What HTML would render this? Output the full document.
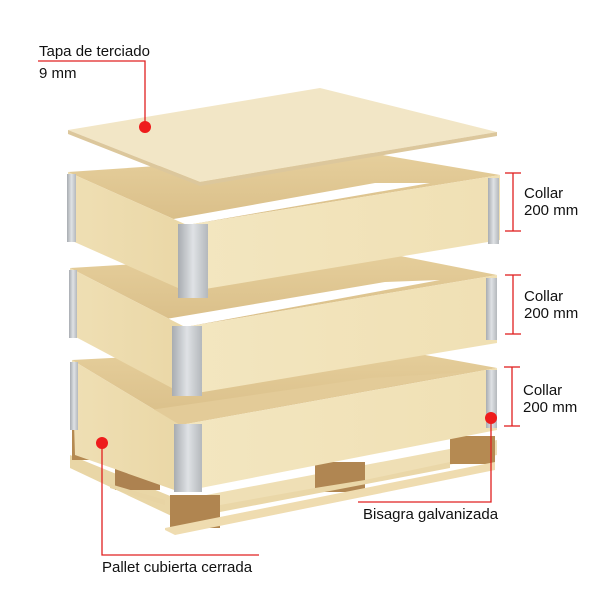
<!DOCTYPE html>
<html><head><meta charset="utf-8"><style>
html,body{margin:0;padding:0;background:#fff;}
svg{display:block;}
text{font-family:"Liberation Sans",sans-serif;font-size:15px;fill:#111;}
</style></head><body>
<svg width="610" height="610" viewBox="0 0 610 610" xmlns="http://www.w3.org/2000/svg">
<defs>
<linearGradient id="fr" x1="0" y1="0" x2="1" y2="0"><stop offset="0" stop-color="#f3e6c0"/><stop offset="1" stop-color="#f0e0b4"/></linearGradient>
<linearGradient id="lf" x1="0" y1="0" x2="1" y2="0"><stop offset="0" stop-color="#efdfb4"/><stop offset="1" stop-color="#ead7a6"/></linearGradient>
<linearGradient id="in" x1="0" y1="0" x2="0" y2="1"><stop offset="0" stop-color="#e6cf9c"/><stop offset="1" stop-color="#d9be88"/></linearGradient>
<linearGradient id="br" x1="0" y1="0" x2="1" y2="0"><stop offset="0" stop-color="#a8acb1"/><stop offset="0.5" stop-color="#dfe2e5"/><stop offset="1" stop-color="#b4b8bc"/></linearGradient>
</defs>

<!-- Pallet -->
<polygon points="70,455 180,500 180,520 70,468" fill="#e9d6a6"/>
<polygon points="180,500 497,440 497,455 180,520" fill="#efdfb5"/>
<rect x="72" y="430" width="38" height="30" fill="#b58a52"/>
<rect x="115" y="460" width="45" height="30" fill="#ad8250"/>
<rect x="170" y="495" width="50" height="33" fill="#b08550"/>
<rect x="315" y="462" width="50" height="30" fill="#b08652"/>
<rect x="450" y="436" width="45" height="28" fill="#b58a52"/>
<polygon points="110,488 165,505 165,500 110,484" fill="#e8d4a4"/>
<polygon points="165,528 495,462 495,470 175,535 165,530" fill="#efdcb0"/>
<polygon points="220,505 315,488 365,480 450,462 450,468 220,512" fill="#ead7a8"/>

<!-- Collar 3 -->
<polygon points="72,360 370,345 497,368 180,425" fill="url(#in)"/>
<polygon points="150,410 370,378 470,372 180,425" fill="#e3cb98"/>
<polygon points="72,360 180,425 180,492 75,455" fill="url(#lf)"/>
<polygon points="180,425 497,368 497,430 180,492" fill="url(#fr)"/>
<rect x="70" y="362" width="8" height="68" fill="url(#br)"/>
<rect x="174" y="424" width="28" height="68" fill="url(#br)"/>
<rect x="486" y="370" width="11" height="58" fill="url(#br)"/>

<!-- Collar 2 -->
<polygon points="70,268 370,250 497,275 185,327" fill="url(#in)"/>
<polygon points="160,320 385,282 440,280 185,327" fill="#ffffff"/>
<polygon points="70,268 185,327 185,395 72,335" fill="url(#lf)"/>
<polygon points="185,327 497,275 497,343 185,395" fill="url(#fr)"/>
<rect x="69" y="270" width="8" height="68" fill="url(#br)"/>
<rect x="172" y="326" width="30" height="70" fill="url(#br)"/>
<rect x="486" y="278" width="11" height="62" fill="url(#br)"/>

<!-- Collar 1 -->
<polygon points="68,172 365,152 500,175 187,225" fill="url(#in)"/>
<polygon points="168,220 375,183 430,183 187,225" fill="#ffffff"/>
<polygon points="68,172 187,225 187,292 70,240" fill="url(#lf)"/>
<polygon points="187,225 500,175 500,240 187,292" fill="url(#fr)"/>
<rect x="67" y="174" width="9" height="68" fill="url(#br)"/>
<rect x="178" y="224" width="30" height="74" fill="url(#br)"/>
<rect x="488" y="178" width="11" height="66" fill="url(#br)"/>

<!-- Lid -->
<polygon points="68,130 320,88 497,132 200,182" fill="#f2e6c6"/>
<polygon points="68,130 200,182 497,132 497,136 200,186 68,134" fill="#dcc79c"/>

<!-- Annotations -->
<g stroke="#e02020" stroke-width="1.3" fill="none">
<polyline points="38,61 145,61 145,127"/>
<line x1="513" y1="173" x2="513" y2="231"/><line x1="505" y1="173" x2="521" y2="173"/><line x1="505" y1="231" x2="521" y2="231"/>
<line x1="513" y1="275" x2="513" y2="334"/><line x1="505" y1="275" x2="521" y2="275"/><line x1="505" y1="334" x2="521" y2="334"/>
<line x1="512" y1="367" x2="512" y2="426"/><line x1="504" y1="367" x2="520" y2="367"/><line x1="504" y1="426" x2="520" y2="426"/>
<polyline points="491,418 491,502 358,502"/>
<polyline points="102,443 102,555 259,555"/>
</g>
<g fill="#ee1c1c">
<circle cx="145" cy="127" r="6"/>
<circle cx="491" cy="418" r="6"/>
<circle cx="102" cy="443" r="6"/>
</g>
<text x="39" y="56">Tapa de terciado</text>
<text x="39" y="78">9 mm</text>
<text x="524" y="198">Collar</text>
<text x="524" y="215">200 mm</text>
<text x="524" y="301">Collar</text>
<text x="524" y="318">200 mm</text>
<text x="523" y="395">Collar</text>
<text x="523" y="412">200 mm</text>
<text x="363" y="519">Bisagra galvanizada</text>
<text x="102" y="572">Pallet cubierta cerrada</text>
</svg>
</body></html>
